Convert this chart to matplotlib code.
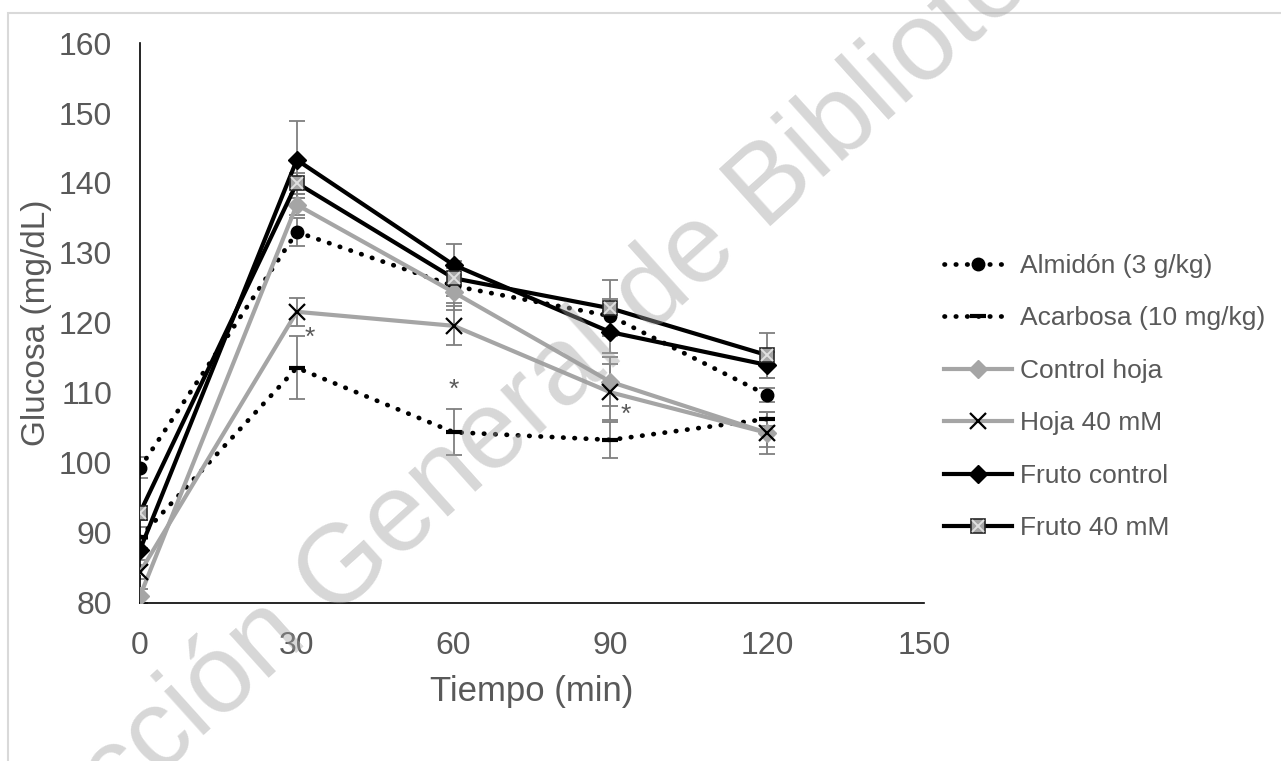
import matplotlib
matplotlib.use("Agg")
import matplotlib.pyplot as plt
from matplotlib.patches import Rectangle
from matplotlib.lines import Line2D
from matplotlib.legend_handler import HandlerTuple

plt.rcParams['font.family'] = ['Liberation Sans', 'DejaVu Sans']

tiempo = [0, 30, 60, 90, 120]

almidon = [99.3, 133.0, 125.3, 121.0, 109.7]
acarbosa = [89.4, 113.6, 104.4, 103.3, 106.3]
control_hoja = [81.0, 136.9, 124.4, 111.6, 104.3]
hoja_40 = [84.4, 121.6, 119.6, 110.1, 104.3]
fruto_control = [87.6, 143.3, 128.3, 118.7, 114.0]
fruto_40 = [92.9, 140.0, 126.4, 122.1, 115.4]

err_almidon = [1.5, 2.0, 2.5, 2.5, 1.0]
err_acarbosa = [1.5, 4.5, 3.3, 2.6, 1.0]
err_control_hoja = [1.0, 1.5, 2.5, 3.5, 2.0]
err_hoja_40 = [1.0, 2.0, 2.8, 4.0, 3.0]
err_fruto_control = [1.5, 5.5, 3.0, 3.0, 1.8]
err_fruto_40 = [1.0, 1.5, 2.5, 4.0, 3.2]

etiquetas = ['Almidón (3 g/kg)', 'Acarbosa (10 mg/kg)', 'Control hoja',
             'Hoja 40 mM', 'Fruto control', 'Fruto 40 mM']

# asteriscos de significancia (x, y)
ast_x = [32.5, 60, 93]
ast_y = [117.9, 110.4, 106.9]

gris = '#a5a5a5'
texto = '#595959'
gris_err = '#7f7f7f'

fig = plt.figure(figsize=(12.81, 7.61), dpi=100)
ax = fig.add_axes([140/1281, (761-603)/761, 784/1281, 560/761])

puntos = dict(linestyle=(0, (0.1, 2.3)), linewidth=3.4, dash_capstyle='round')

def barras(y, e):
    ax.errorbar(tiempo, y, yerr=e, fmt='none', ecolor=gris_err, elinewidth=1.3,
                capsize=6, capthick=1.3, zorder=2)

for y, e in [(almidon, err_almidon), (acarbosa, err_acarbosa),
             (control_hoja, err_control_hoja), (hoja_40, err_hoja_40),
             (fruto_control, err_fruto_control), (fruto_40, err_fruto_40)]:
    barras(y, e)

h1, = ax.plot(tiempo, almidon, color='black', marker='o', markersize=9, zorder=3, **puntos)
h2, = ax.plot(tiempo, acarbosa, color='black', marker='_', markersize=12,
              markeredgewidth=3, zorder=3, **puntos)
h3, = ax.plot(tiempo, control_hoja, color=gris, linewidth=3, marker='D',
              markersize=9, zorder=4)
h4, = ax.plot(tiempo, hoja_40, color=gris, linewidth=3, marker='x', markersize=11,
              markeredgecolor='black', markeredgewidth=1.6, zorder=5)
h5, = ax.plot(tiempo, fruto_control, color='black', linewidth=3, marker='D',
              markersize=9, zorder=6)
h6, = ax.plot(tiempo, fruto_40, color='black', linewidth=3, marker='s', markersize=10,
              markerfacecolor=gris, markeredgecolor='#262626', markeredgewidth=1.2, zorder=7)
ax.plot(tiempo, fruto_40, linestyle='none', marker='x', markersize=9,
        markeredgecolor='#e0e0e0', markeredgewidth=1.4, zorder=8)

for x, y in zip(ast_x, ast_y):
    ax.text(x, y, '*', color=texto, fontsize=19, ha='center', va='center')

ax.set_xlim(0, 150)
ax.set_ylim(80, 160)
ax.set_xticks([0, 30, 60, 90, 120, 150])
ax.set_yticks(range(80, 161, 10))
for s in ['top', 'right']:
    ax.spines[s].set_visible(False)
for s in ['left', 'bottom']:
    ax.spines[s].set_linewidth(1.2)
    ax.spines[s].set_color('black')
ax.tick_params(length=0, labelsize=23, labelcolor=texto)
ax.tick_params(axis='x', pad=20)
ax.tick_params(axis='y', pad=20)
ax.set_xlabel('Tiempo (min)', fontsize=25, color=texto, labelpad=10)
ax.set_ylabel('Glucosa (mg/dL)', fontsize=24, color=texto, labelpad=5)

h6x = Line2D([], [], linestyle='none', marker='x', markersize=9,
             markeredgecolor='#e0e0e0', markeredgewidth=1.4)
fig.legend([h1, h2, h3, h4, h5, (h6, h6x)], etiquetas,
           handler_map={tuple: HandlerTuple(ndivide=1, pad=0)},
           loc='upper left', bbox_to_anchor=(920/1281, 1 - 230/761),
           frameon=False, fontsize=19, labelcolor=texto,
           handlelength=2.6, handletextpad=0.3, labelspacing=1.08)

# marca de agua
fig.text(545/1281, 1 - 390/761, 'Dirección General de Bibliotecas', fontsize=80,
         color='#a0a0a0', alpha=0.42, rotation=42, ha='center', va='center',
         rotation_mode='anchor', zorder=10)

# borde del gráfico
fig.patches.append(Rectangle((8/1281, -0.1), 1.2, (761-13)/761 + 0.1,
                             transform=fig.transFigure, fill=False,
                             edgecolor='#d9d9d9', linewidth=1.5))

fig.savefig('out.png', dpi=100)
